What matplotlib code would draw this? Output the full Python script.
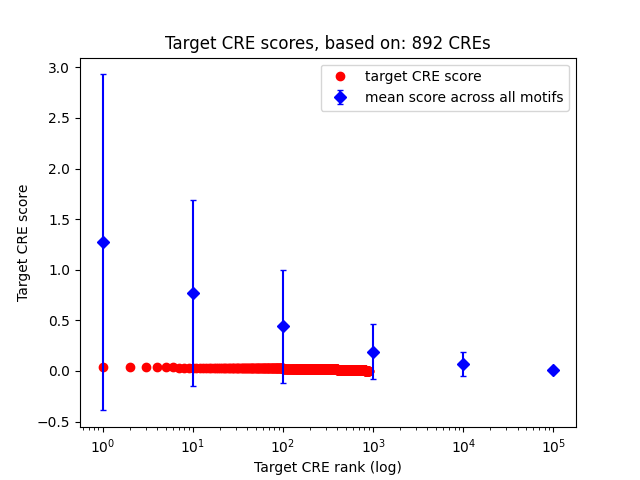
import numpy as np
import matplotlib
matplotlib.use("Agg")
import matplotlib.pyplot as plt

# target CRE scores as run-lengths (score, number of consecutive ranks)
score_values = [0.043, 0.037, 0.036, 0.035, 0.034, 0.033, 0.032, 0.030,
                0.025, 0.020, 0.015, 0.010, 0.006, 0.003]
score_counts = [1, 1, 1, 1, 2, 4, 15, 25, 50, 100, 200, 300, 120, 72]

# mean score across all motifs at each rank cutoff
mean_ranks = [1, 10, 100, 1000, 10000, 100000]
mean_scores = [1.27, 0.77, 0.44, 0.19, 0.07, 0.01]
mean_err = [1.66, 0.92, 0.56, 0.27, 0.12, 0.005]


def main():
    scores = np.repeat(score_values, score_counts)
    ranks = np.arange(1, len(scores) + 1)

    plt.figure(figsize=(6.4, 4.8), dpi=100)
    plt.plot(ranks, scores, "ro", label="target CRE score")
    plt.errorbar(mean_ranks, mean_scores, yerr=mean_err, fmt="bD",
                 capsize=2, label="mean score across all motifs")
    plt.xscale("log")
    plt.xlabel("Target CRE rank (log)")
    plt.ylabel("Target CRE score")
    plt.title("Target CRE scores, based on: %d CREs" % len(scores))
    plt.legend(loc="upper right")
    plt.savefig("out.png", dpi=100)
    plt.close()


if __name__ == "__main__":
    main()
